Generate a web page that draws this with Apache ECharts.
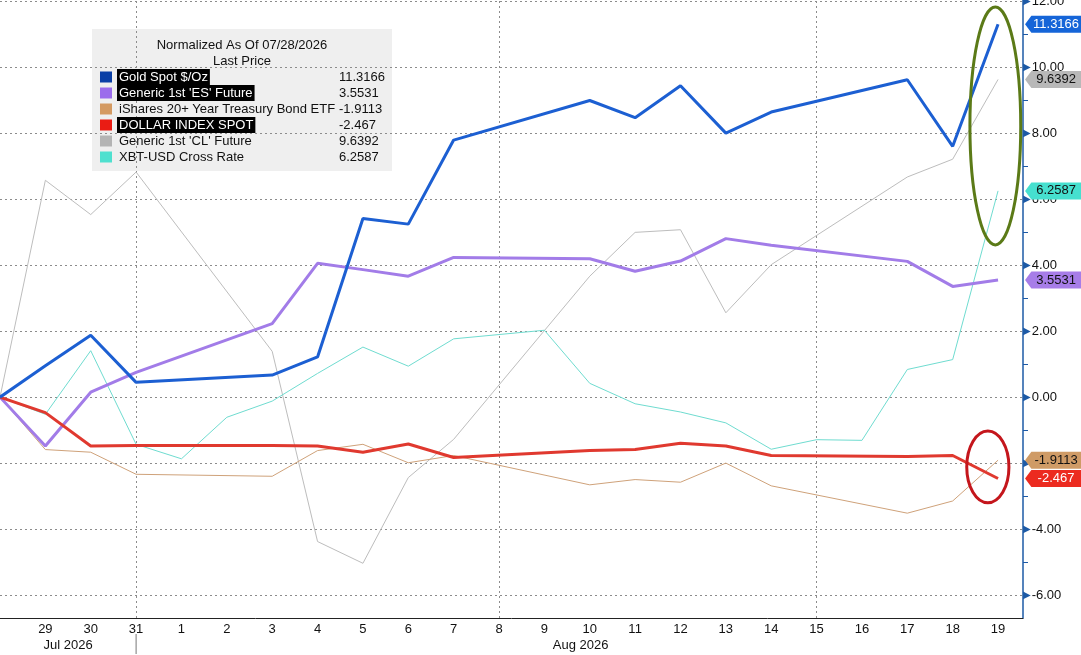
<!DOCTYPE html>
<html>
<head>
<meta charset="utf-8">
<title>Normalized As Of 07/28/2026</title>
<script src="https://cdn.jsdelivr.net/npm/echarts@6/dist/echarts.min.js"></script>
<style>
    html, body { margin: 0; padding: 0; background: #fff; }
    #chart { width: 1081px; height: 655px; }
</style>
</head>
<body>
<div id="chart"></div>
<script>
// days on the x axis, 28 Jul 2026 .. 19 Aug 2026 (index = position)
var dayLabels = ['28', '29', '30', '31', '1', '2', '3', '4', '5', '6', '7', '8', '9',
                 '10', '11', '12', '13', '14', '15', '16', '17', '18', '19'];
var monthLabels = ['Jul 2026', 'Aug 2026'];
var monthLabelAt = [1.5, 12.8];
var monthBreakAt = 3;
var weekLines = [3, 11, 18];

var yMajorTicks = [-6, -4, -2, 0, 2, 4, 6, 8, 10, 12];
var yMinorTicks = [-5, -3, -1, 1, 3, 5, 7, 9, 11];

// normalized values, null = no print that day
var gold = [0, 0.95, 1.88, 0.45, null, null, 0.67, 1.22, 5.42, 5.25, 7.80, null, null,
            9.00, 8.48, 9.45, 8.01, 8.65, null, null, 9.63, 7.61, 11.3166];
var es   = [0, -1.48, 0.15, 0.75, null, null, 2.23, 4.06, 3.87, 3.67, 4.24, null, null,
            4.20, 3.82, 4.13, 4.81, 4.61, null, null, 4.12, 3.36, 3.5531];
var tlt  = [0, -1.59, -1.67, -2.34, null, null, -2.40, -1.62, -1.43, -1.99, -1.77, null, null,
            -2.66, -2.50, -2.58, -2.00, -2.69, null, null, -3.52, -3.15, -1.9113];
var dxy  = [0, -0.47, -1.48, -1.47, null, null, -1.47, -1.48, -1.67, -1.42, -1.83, null, null,
            -1.62, -1.59, -1.40, -1.48, -1.77, null, null, -1.80, -1.77, -2.467];
var cl   = [0, 6.58, 5.54, 6.83, null, null, 1.39, -4.38, -5.04, -2.44, -1.28, null, null,
            3.67, 5.00, 5.08, 2.56, 4.02, null, null, 6.68, 7.22, 9.6392];
var xbt  = [0, -0.52, 1.41, -1.43, -1.87, -0.61, -0.12, 0.72, 1.52, 0.94, 1.77, 1.90, 2.03,
            0.42, -0.20, -0.45, -0.78, -1.58, -1.29, -1.31, 0.84, 1.14, 6.2587];

var FONT = "'Liberation Sans', Arial, sans-serif";
var AXIS_BLUE = '#1d5aa6';

// legend order
var lines = [
    {name: 'Gold Spot $/Oz', data: gold, color: '#1c5fd2', key: '#0a3fa6', width: 3, tag: '#1565d8', tagText: '#fff', mark: true},
    {name: "Generic 1st 'ES' Future", data: es, color: '#a27ce8', key: '#9b6cec', width: 3, tag: '#a77de8', tagText: '#111', mark: true},
    {name: 'iShares 20+ Year Treasury Bond ETF', data: tlt, color: '#cfa27a', key: '#d49a62', width: 1, tag: '#cf9b66', tagText: '#111', mark: false},
    {name: 'DOLLAR INDEX SPOT', data: dxy, color: '#e0392f', key: '#ea1c14', width: 3, tag: '#ec2b20', tagText: '#fff', mark: true},
    {name: "Generic 1st 'CL' Future", data: cl, color: '#bdbdbd', key: '#b4b4b4', width: 1, tag: '#b8b8b8', tagText: '#111', mark: false},
    {name: 'XBT-USD Cross Rate', data: xbt, color: '#6fdcd0', key: '#4fe0cf', width: 1, tag: '#46e0cf', tagText: '#111', mark: false}
];
// draw order: thin lines first, gold on top
var drawOrder = [4, 5, 2, 1, 3, 0];

function points(arr) {
    var out = [];
    arr.forEach(function (v, i) { if (v !== null) out.push([i, v]); });
    return out;
}

var series = drawOrder.map(function (k, n) {
    var s = lines[k];
    var last = s.data[s.data.length - 1];
    var item = {
        name: s.name,
        type: 'line',
        data: points(s.data),
        symbol: 'none',
        clip: false,
        animation: false,
        lineStyle: {color: s.color, width: s.width},
        itemStyle: {color: s.color},
        z: 3 + n,
        markPoint: {
            silent: true,
            animation: false,
            symbol: 'path://M0,9L7,0L62,0L62,18L7,18Z',
            symbolSize: [56, 17],
            symbolOffset: [55, 0],
            itemStyle: {color: s.tag},
            label: {
                show: true, position: 'inside', offset: [3, 0],
                color: s.tagText, fontSize: 13, fontFamily: FONT,
                formatter: function () { return String(last); }
            },
            data: [{coord: [s.data.length - 1, last], value: last}]
        }
    };
    if (n === 0) {
        item.markLine = {
            silent: true,
            animation: false,
            symbol: 'none',
            z: 1,
            label: {show: false},
            lineStyle: {color: '#8c8c8c', type: [2, 3], width: 1},
            data: yMajorTicks.map(function (v) { return {yAxis: v}; })
                .concat(weekLines.map(function (v) { return {xAxis: v}; }))
        };
    }
    return item;
});

var chartOption = {
    backgroundColor: '#fff',
    animation: false,
    textStyle: {fontFamily: FONT},
    grid: {left: 0, right: 58, top: 0, bottom: 37, containLabel: false, outerBoundsMode: 'none'},
    legend: {
        orient: 'vertical',
        left: 100,
        top: 69,
        padding: 0,
        itemGap: 0,
        itemWidth: 12,
        itemHeight: 11,
        icon: 'rect',
        selectedMode: false,
        textStyle: {fontSize: 13, color: '#111', fontFamily: FONT, lineHeight: 14, padding: [1, 2]},
        data: lines.map(function (s) {
            var d = {name: s.name, itemStyle: {color: s.key}};
            if (s.mark) d.textStyle = {backgroundColor: '#000', color: '#fff'};
            return d;
        })
    },
    xAxis: {
        type: 'value',
        min: 0,
        max: 22.55,
        interval: 1,
        axisLine: {show: true, onZero: false, lineStyle: {color: '#222', width: 1}},
        axisTick: {show: false},
        splitLine: {show: false},
        axisLabel: {
            color: '#111', fontSize: 13, fontFamily: FONT, margin: 5,
            showMaxLabel: false,
            formatter: function (v) {
                if (!Number.isInteger(v) || v === 0) return '';
                return dayLabels[v] || '';
            }
        }
    },
    yAxis: {
        type: 'value',
        position: 'right',
        min: -6.7,
        max: 12.05,
        axisLine: {show: true, onZero: false, lineStyle: {color: AXIS_BLUE, width: 1.5}},
        axisTick: {show: true, customValues: yMinorTicks, length: 5, lineStyle: {color: AXIS_BLUE}},
        splitLine: {show: false},
        axisLabel: {
            customValues: yMajorTicks,
            margin: 0,
            formatter: function (v) { return '{t|\u25B6}{v|' + v.toFixed(2) + '}'; },
            rich: {
                t: {color: AXIS_BLUE, fontSize: 10, fontFamily: 'DejaVu Sans'},
                v: {color: '#111', fontSize: 13, fontFamily: FONT, padding: [0, 0, 0, 1]}
            }
        }
    },
    series: series
};

var myChart = echarts.init(document.getElementById('chart'));
myChart.setOption(chartOption);

function px(x, y) { return myChart.convertToPixel({gridIndex: 0}, [x, y]); }

function ellipse(id, x0, x1, y0, y1, color) {
    var a = px(x0, y1), b = px(x1, y0);
    return {
        type: 'ellipse', id: id, silent: true, z: 50,
        shape: {cx: (a[0] + b[0]) / 2, cy: (a[1] + b[1]) / 2, rx: (b[0] - a[0]) / 2, ry: (b[1] - a[1]) / 2},
        style: {fill: null, stroke: color, lineWidth: 3}
    };
}

var lastValues = lines.map(function (s) { return String(s.data[s.data.length - 1]); });
var graphics = [
    {type: 'rect', id: 'box', z: -1, silent: true,
     shape: {x: 92, y: 29, width: 300, height: 142}, style: {fill: '#efefef'}},
    {type: 'text', id: 'title1', x: 242, y: 45, silent: true,
     style: {text: 'Normalized As Of 07/28/2026', align: 'center', verticalAlign: 'middle',
             fontSize: 13, fontFamily: FONT, fill: '#111'}},
    {type: 'text', id: 'title2', x: 242, y: 61, silent: true,
     style: {text: 'Last Price', align: 'center', verticalAlign: 'middle',
             fontSize: 13, fontFamily: FONT, fill: '#111'}},
    {type: 'text', id: 'vals', x: 339, y: 69, silent: true,
     style: {text: lastValues.join('\n'), lineHeight: 16, verticalAlign: 'top',
             fontSize: 13, fontFamily: FONT, fill: '#111'}},
    ellipse('ringUp', 21.38, 22.5, 4.62, 11.84, '#5b7a17'),
    ellipse('ringDown', 21.31, 22.24, -3.2, -1.03, '#c4161c')
];

var sep = px(monthBreakAt, -6.7);
graphics.push({type: 'line', id: 'sep', silent: true,
    shape: {x1: sep[0], y1: sep[1] + 16, x2: sep[0], y2: sep[1] + 36},
    style: {stroke: '#777', lineWidth: 1}});
monthLabels.forEach(function (m, i) {
    var p = px(monthLabelAt[i], -6.7);
    graphics.push({type: 'text', id: 'month' + i, x: p[0], y: p[1] + 27, silent: true,
        style: {text: m, align: 'center', verticalAlign: 'middle', fontSize: 13, fontFamily: FONT, fill: '#111'}});
});

myChart.setOption({graphic: {elements: graphics}});
</script>
</body>
</html>
